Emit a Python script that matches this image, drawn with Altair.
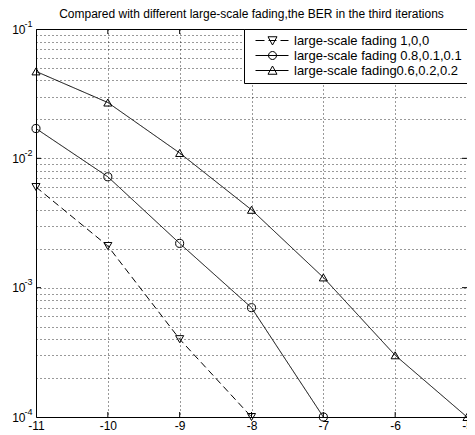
import math
import altair as alt
import pandas as pd

# ---------------- data ----------------
x_vals = [-11, -10, -9, -8, -7, -6, -5]
ber_100 = [6.0e-3, 2.1e-3, 4.0e-4, 1.0e-4]
ber_811 = [1.7e-2, 7.2e-3, 2.2e-3, 7.0e-4, 1.0e-4]
ber_622 = [4.7e-2, 2.7e-2, 1.1e-2, 4.0e-3, 1.2e-3, 3.0e-4, 1.0e-4]
series_names = [
    "large-scale fading 1,0,0",
    "large-scale fading 0.8,0.1,0.1",
    "large-scale fading0.6,0.2,0.2",
]
decades = [1e-4, 1e-3, 1e-2, 1e-1]
grid_vals = [k * d for d in [1e-4, 1e-3, 1e-2] for k in range(1, 10)] + [1e-1]
title_text = "Compared with different large-scale fading,the BER in the third iterations"

rows = []
for name, vals in zip(series_names, [ber_100, ber_811, ber_622]):
    for xv, b in zip(x_vals, vals):
        rows.append({"series": name, "x": xv, "ber": b})
df = pd.DataFrame(rows)

W, H = 431, 388
FONT = "Liberation Sans"

# ---------------- legend symbol paths (line + marker) ----------------
cx = 3.4
tri_down = f"M{cx-0.9},-0.75L{cx+0.9},-0.75L{cx},0.9Z"
tri_up = f"M{cx-0.9},0.75L{cx+0.9},0.75L{cx},-0.9Z"
circ_pts = [(cx + 0.8 * math.cos(2 * math.pi * i / 16), 0.8 * math.sin(2 * math.pi * i / 16)) for i in range(16)]
circ = "M" + "L".join(f"{px:.3f},{py:.3f}" for px, py in circ_pts) + "Z"
leg_paths = [
    "M0,0H1.8M2.6,0H4.2M5.0,0H6.6" + tri_down,
    "M0,0H6.6" + circ,
    "M0,0H6.6" + tri_up,
]

xs = alt.Scale(domain=[-11, -5], nice=False, zero=False)
ys = alt.Scale(type="log", domain=[1e-4, 1e-1], nice=False)

is_decade = (
    "((datum.value > 0.099 && datum.value < 0.101) || (datum.value > 0.0099 && datum.value < 0.0101) || "
    "(datum.value > 0.00099 && datum.value < 0.00101) || (datum.value > 0.000099 && datum.value < 0.000101))"
)
label_expr_base = is_decade + " ? '10' : ''"
label_expr_exp = "'' + round(log(datum.value) / LN10)"

X = alt.X(
    "x:Q", scale=xs, title=None,
    axis=alt.Axis(values=x_vals, labelExpr="'' + datum.value", grid=True, ticks=False,
                  domain=False, labelFlush=False, labelOverlap=False, labelPadding=3),
)
Y = alt.Y(
    "ber:Q", scale=ys, title=None,
    axis=alt.Axis(orient="left", values=grid_vals, labelExpr=label_expr_base, grid=True, ticks=False,
                  domain=False, labelFlush=False, labelOverlap=False, labelPadding=11),
)
Y_plain = alt.Y("ber:Q", scale=ys, title=None, axis=None)
Y_exp = alt.Y(
    "ber:Q", scale=ys, title=None,
    axis=alt.Axis(orient="left", values=decades, labelExpr=label_expr_exp, grid=False, ticks=False,
                  domain=False, labelFlush=False, labelOverlap=False, labelPadding=4,
                  labelFontSize=9, labelOffset=-6),
)

lines = alt.Chart(df).mark_line(color="black", strokeWidth=1).encode(
    x=X, y=Y,
    detail="series:N",
    strokeDash=alt.StrokeDash("series:N", scale=alt.Scale(domain=series_names, range=[[7, 4], [1, 0], [1, 0]]), legend=None),
    order="x:Q",
)

points = alt.Chart(df).mark_point(filled=False, color="black", size=65, strokeWidth=1, opacity=1).encode(
    x=X, y=Y_plain,
    shape=alt.Shape("series:N", scale=alt.Scale(domain=series_names, range=["triangle-down", "circle", "triangle-up"]), legend=None),
)

legend_layer = alt.Chart(df).mark_point(filled=False, color="black", opacity=0).encode(
    x=X, y=Y_plain,
    shape=alt.Shape(
        "series:N",
        scale=alt.Scale(domain=series_names, range=leg_paths),
        legend=alt.Legend(
            title=None, orient="top-right", offset=0, padding=5,
            strokeColor="black", fillColor="white",
            symbolSize=100, symbolStrokeColor="black", symbolFillColor="transparent",
            symbolStrokeWidth=1, symbolOpacity=1,
            labelFont=FONT, labelFontSize=13, labelColor="black", labelLimit=400,
            labelOffset=32, rowPadding=1,
        ),
    ),
)

xt = pd.DataFrame({"x": x_vals[1:-1]})
yt = pd.DataFrame({"ber": decades[1:-1]})
tick_b = alt.Chart(xt).mark_rule(color="black", strokeWidth=1).encode(x=X, y=alt.value(H), y2=alt.value(H - 5))
tick_t = alt.Chart(xt).mark_rule(color="black", strokeWidth=1).encode(x=X, y=alt.value(0), y2=alt.value(5))
tick_l = alt.Chart(yt).mark_rule(color="black", strokeWidth=1).encode(y=Y_exp, x=alt.value(0), x2=alt.value(5))
tick_r = alt.Chart(yt).mark_rule(color="black", strokeWidth=1).encode(y=Y_plain, x=alt.value(W), x2=alt.value(W - 5))

chart = (
    alt.layer(lines, points, legend_layer, tick_b, tick_t, tick_r, tick_l)
    .resolve_scale(shape="independent")
    .resolve_axis(y="independent")
    .properties(
        width=W, height=H,
        title=alt.TitleParams(title_text, font=FONT, fontSize=12, fontWeight="normal", color="black",
                              offset=3, dy=5, anchor="middle"),
        padding={"left": 28, "top": 21, "right": 0, "bottom": 18},
        autosize=alt.AutoSizeParams(type="none"),
        background="white",
    )
    .configure_view(stroke="black", strokeWidth=1)
    .configure_axis(labelFont=FONT, labelFontSize=12, labelColor="black",
                    gridColor="#000", gridDash=[1, 3], gridWidth=1, gridOpacity=0.8)
)

chart.save("out.html", embed_options={"renderer": "svg", "actions": False})
